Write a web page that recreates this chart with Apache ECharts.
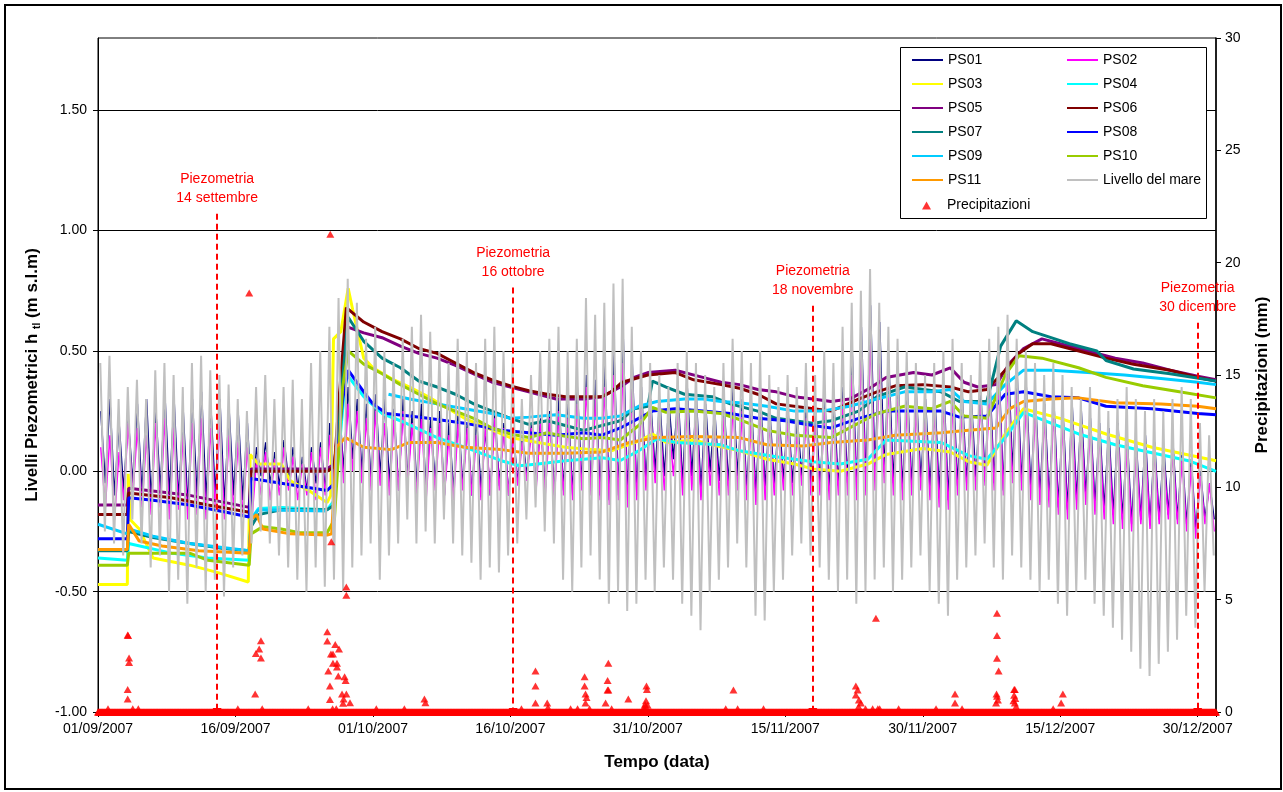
<!DOCTYPE html>
<html>
<head>
<meta charset="utf-8">
<script src="https://cdn.jsdelivr.net/npm/echarts@6/dist/echarts.min.js"></script>
<style>
html,body{margin:0;padding:0;background:#fff;}
#chart{width:1283px;height:792px;}
</style>
</head>
<body>
<div id="chart"></div>
<script>
// Time is expressed in days since 01/09/2007 00:00.
const START_UTC = Date.UTC(2007, 8, 1);
const X_MAX_DAY = 122;
const X_TICK_DAYS = 15;
const LEVEL_TICKS = [-1, -0.5, 0, 0.5, 1, 1.5];

// Sea level, sampled every 12 hours (alternating high / low water), from 06:00 of 01/09.
const SEA_FIRST_DAY = 0.25;
const seaLevel = [
 0.45,-0.25, 0.48,-0.30, 0.30,-0.35, 0.35,-0.20, 0.38,-0.30, 0.30,-0.40, 0.42,-0.35, 0.45,-0.50, 0.40,-0.45, 0.35,-0.55,
 0.45,-0.40, 0.48,-0.50, 0.42,-0.45, 0.40,-0.52, 0.36,-0.40, 0.30,-0.35, 0.25,-0.30, 0.35,-0.25, 0.40,-0.30, 0.30,-0.35,
 0.35,-0.40, 0.38,-0.45, 0.30,-0.50, 0.45,-0.40, 0.50,-0.48, 0.60,-0.45, 0.72,-0.50, 0.80,-0.40, 0.70,-0.35, 0.55,-0.30,
 0.60,-0.45, 0.50,-0.35, 0.45,-0.30, 0.55,-0.20, 0.60,-0.30, 0.65,-0.25, 0.58,-0.30, 0.50,-0.20, 0.45,-0.30, 0.55,-0.35,
 0.50,-0.38, 0.45,-0.45, 0.55,-0.40, 0.60,-0.42, 0.50,-0.35, 0.45,-0.30, 0.30,-0.20, 0.40,-0.15, 0.50,-0.25, 0.55,-0.30,
 0.60,-0.45, 0.50,-0.50, 0.55,-0.40, 0.72,-0.35, 0.65,-0.45, 0.70,-0.55, 0.78,-0.50, 0.80,-0.58, 0.60,-0.55, 0.50,-0.45,
 0.45,-0.50, 0.40,-0.40, 0.35,-0.45, 0.45,-0.55, 0.50,-0.60, 0.45,-0.66, 0.40,-0.50, 0.35,-0.45, 0.45,-0.40, 0.55,-0.30,
 0.50,-0.40, 0.45,-0.60, 0.50,-0.62, 0.40,-0.50, 0.35,-0.45, 0.40,-0.35, 0.35,-0.30, 0.45,-0.35, 0.40,-0.40, 0.50,-0.45,
 0.45,-0.50, 0.60,-0.45, 0.70,-0.55, 0.75,-0.50, 0.84,-0.45, 0.70,-0.40, 0.60,-0.50, 0.55,-0.45, 0.50,-0.40, 0.45,-0.35,
 0.40,-0.50, 0.45,-0.55, 0.50,-0.60, 0.55,-0.45, 0.45,-0.40, 0.40,-0.35, 0.50,-0.30, 0.55,-0.40, 0.60,-0.45, 0.65,-0.35,
 0.55,-0.40, 0.50,-0.45, 0.45,-0.50, 0.40,-0.45, 0.45,-0.55, 0.40,-0.60, 0.35,-0.50, 0.30,-0.45, 0.35,-0.55, 0.30,-0.60,
 0.25,-0.65, 0.30,-0.70, 0.35,-0.75, 0.30,-0.82, 0.25,-0.85, 0.30,-0.80, 0.25,-0.75, 0.30,-0.70, 0.35,-0.60, 0.30,-0.65,
 0.20,-0.50, 0.15,-0.35
];

// Tidally driven wells, sampled every 12 hours (high / low), from 07:00 of 01/09.
const WELL_FIRST_DAY = 0.3;
const ps01 = [
 0.25,-0.05, 0.30,-0.10, 0.20,-0.08, 0.22,-0.05, 0.28,-0.10, 0.30,-0.12, 0.26,-0.08, 0.32,-0.10, 0.30,-0.12, 0.25,-0.15,
 0.30,-0.10, 0.33,-0.12, 0.28,-0.10, 0.30,-0.14, 0.26,-0.10, 0.24,-0.12, 0.20,-0.15, 0.10,-0.02, 0.12,-0.05, 0.08,-0.06,
 0.13,-0.04, 0.10,-0.07, 0.06,-0.08, 0.10,-0.05, 0.12,-0.08, 0.20,-0.05, 0.30, 0.00, 0.35, 0.05, 0.30, 0.00, 0.28,-0.05,
 0.32,-0.02, 0.30,-0.05, 0.26,-0.08, 0.30,-0.03, 0.25,-0.06, 0.28,-0.08, 0.22,-0.05, 0.25,-0.10, 0.20,-0.08, 0.24,-0.06,
 0.20,-0.10, 0.22,-0.08, 0.18,-0.10, 0.25,-0.06, 0.20,-0.10, 0.18,-0.05, 0.15,-0.02, 0.20,-0.06, 0.22,-0.08, 0.25,-0.10,
 0.30,-0.08, 0.28,-0.10, 0.35,-0.06, 0.40,-0.08, 0.38,-0.10, 0.45,-0.12, 0.50,-0.10, 0.58,-0.12, 0.45,-0.10, 0.35,-0.05,
 0.30, 0.00, 0.30,-0.02, 0.28, 0.05, 0.32,-0.05, 0.35,-0.02, 0.30,-0.08, 0.28, 0.00, 0.25,-0.04, 0.30,-0.06, 0.35,-0.02,
 0.30,-0.08, 0.28,-0.10, 0.32,-0.08, 0.26,-0.06, 0.24,-0.04, 0.25,-0.05, 0.22,-0.02, 0.28,-0.05, 0.26,-0.06, 0.30,-0.08,
 0.28,-0.06, 0.35,-0.05, 0.50,-0.08, 0.60,-0.05, 0.69,-0.02, 0.62, 0.00, 0.45,-0.05, 0.40,-0.08, 0.35,-0.06, 0.32,-0.04,
 0.30,-0.08, 0.33,-0.10, 0.35,-0.12, 0.38,-0.06, 0.32,-0.05, 0.30,-0.04, 0.35,-0.03, 0.40,-0.05, 0.45,-0.08, 0.50, 0.00,
 0.40,-0.05, 0.35,-0.08, 0.30,-0.10, 0.28,-0.12, 0.30,-0.15, 0.25,-0.16, 0.28,-0.12, 0.25,-0.10, 0.22,-0.14, 0.20,-0.16,
 0.18,-0.18, 0.20,-0.20, 0.15,-0.22, 0.12,-0.20, 0.15,-0.22, 0.12,-0.20, 0.10,-0.18, 0.12,-0.20, 0.08,-0.22, 0.05,-0.25,
 0.00,-0.20,-0.05,-0.20
];
const ps02 = [
 0.10,-0.15, 0.15,-0.20, 0.08,-0.12, 0.20,-0.10, 0.18,-0.15, 0.15,-0.18, 0.20,-0.15, 0.22,-0.20, 0.18,-0.16, 0.15,-0.20,
 0.20,-0.18, 0.22,-0.20, 0.18,-0.15, 0.20,-0.20, 0.15,-0.16, 0.12,-0.18, 0.10,-0.20, 0.05,-0.10, 0.08,-0.12, 0.05,-0.10,
 0.10,-0.08, 0.06,-0.12, 0.03,-0.10, 0.08,-0.12, 0.10,-0.10, 0.15,-0.08, 0.30,-0.05, 0.28, 0.00, 0.25,-0.05, 0.22,-0.08,
 0.25,-0.06, 0.20,-0.10, 0.22,-0.08, 0.25,-0.05, 0.20,-0.10, 0.22,-0.12, 0.18,-0.08, 0.20,-0.10, 0.15,-0.12, 0.20,-0.08,
 0.18,-0.10, 0.15,-0.12, 0.20,-0.10, 0.22,-0.08, 0.18,-0.10, 0.15,-0.06, 0.12,-0.04, 0.18,-0.08, 0.20,-0.10, 0.22,-0.12,
 0.25,-0.10, 0.22,-0.12, 0.28,-0.08, 0.35,-0.10, 0.30,-0.12, 0.35,-0.14, 0.40,-0.12, 0.45,-0.15, 0.35,-0.12, 0.28,-0.08,
 0.25,-0.05, 0.22,-0.08, 0.20,-0.02, 0.25,-0.10, 0.28,-0.08, 0.22,-0.12, 0.20,-0.06, 0.18,-0.10, 0.22,-0.10, 0.28,-0.08,
 0.25,-0.12, 0.22,-0.14, 0.25,-0.12, 0.20,-0.10, 0.18,-0.08, 0.20,-0.10, 0.15,-0.06, 0.22,-0.10, 0.20,-0.10, 0.25,-0.12,
 0.22,-0.10, 0.30,-0.10, 0.40,-0.12, 0.50,-0.10, 0.55,-0.08, 0.45,-0.05, 0.35,-0.10, 0.30,-0.12, 0.28,-0.10, 0.25,-0.08,
 0.22,-0.12, 0.25,-0.15, 0.28,-0.16, 0.30,-0.10, 0.25,-0.08, 0.22,-0.08, 0.28,-0.06, 0.32,-0.08, 0.38,-0.10, 0.40,-0.05,
 0.32,-0.08, 0.28,-0.12, 0.25,-0.14, 0.22,-0.15, 0.25,-0.18, 0.20,-0.20, 0.22,-0.16, 0.20,-0.14, 0.18,-0.18, 0.15,-0.20,
 0.12,-0.22, 0.15,-0.24, 0.10,-0.25, 0.08,-0.22, 0.10,-0.24, 0.08,-0.22, 0.05,-0.20, 0.08,-0.22, 0.05,-0.25, 0.02,-0.28,
-0.02,-0.22,-0.05,-0.25
];

// Slowly varying wells: [day, level m s.l.m.] readings; '-' marks missing data.
const ps03 = [[0,-0.47],[3.2,-0.47],[3.3,-0.01],[3.5,-0.2],[4.5,-0.24],[6,-0.36],[10,-0.39],[13,-0.42],[16.4,-0.46],[16.6,0.07],[17.5,0.03],[20,0.03],[21,-0.04],[23,-0.08],[25,-0.13],[25.4,-0.1],[25.7,0.55],[26.5,0.58],[27.3,0.76],[27.8,0.67],[29,0.47],[30,0.43],[32,0.385],[34,0.35],[36,0.31],[40,0.22],[45,0.14],[48,0.12],[51,0.1],[54,0.09],[56,0.085],[59,0.125],[60.5,0.155],[62,0.12],[65,0.13],[67,0.11],[70,0.085],[73,0.05],[76,0.03],[78,0.01],[81,0.0],[84,0.03],[86,0.07],[90,0.095],[93,0.08],[95,0.04],[97,0.025],[99,0.155],[101,0.26],[105,0.22],[110,0.155],[115,0.1],[122,0.044]];
const ps04 = [[0,-0.36],[3.2,-0.37],[3.35,-0.3],[8,-0.34],[12,-0.36],[16.5,-0.37],[16.7,-0.2],[17.5,-0.155],[20,-0.15],[25,-0.16],[25.8,-0.12],[26.8,0.3],[27.2,0.4],[29,0.31],[31,0.24],[33,0.21],[37,0.14],[40,0.1],[44,0.044],[46,0.023],[48,0.03],[51,0.044],[55,0.056],[57,0.045],[59,0.085],[61,0.135],[63,0.12],[68,0.11],[70,0.085],[74,0.06],[78,0.04],[81,0.03],[84,0.05],[86,0.13],[92,0.12],[95,0.065],[97,0.05],[99,0.14],[101,0.245],[104,0.2],[107,0.155],[111,0.11],[115,0.077],[119,0.044],[122,0.0]];
const ps05 = [[0,-0.14],[3.2,-0.14],[3.35,-0.07],[10,-0.1],[16.5,-0.15],[16.7,0.01],[25,0.01],[25.8,0.03],[26.5,0.3],[27.2,0.6],[29,0.575],[31,0.555],[33,0.52],[35,0.49],[37,0.47],[39,0.44],[41,0.405],[43,0.37],[45,0.35],[47,0.33],[50,0.3],[53,0.3],[55,0.31],[57,0.35],[58.5,0.39],[60,0.41],[63,0.42],[66,0.39],[68,0.37],[70,0.36],[72,0.34],[74,0.33],[76,0.31],[78,0.3],[80,0.29],[82,0.3],[84,0.34],[86,0.39],[89,0.41],[91,0.4],[93,0.43],[94.5,0.37],[96,0.35],[98,0.36],[99.5,0.45],[101,0.51],[103,0.55],[105,0.53],[108,0.5],[111,0.47],[114,0.45],[117,0.42],[120,0.395],[122,0.38]];
const ps06 = [[0,-0.18],[3.2,-0.18],[3.35,-0.09],[8,-0.11],[12,-0.14],[16.5,-0.17],[16.7,0.0],[20,0.0],[25,0.0],[25.8,0.02],[26.3,0.3],[27.1,0.68],[29,0.62],[31,0.58],[33,0.55],[35,0.51],[37,0.49],[39,0.45],[41,0.41],[43,0.38],[45,0.355],[47,0.335],[49,0.32],[51,0.31],[53,0.31],[55,0.31],[56,0.33],[57.2,0.37],[60,0.4],[63,0.41],[65,0.38],[68,0.36],[70,0.345],[72,0.32],[74,0.28],[77,0.265],[80,0.25],[83,0.3],[85,0.33],[87,0.355],[90,0.36],[93,0.35],[95,0.33],[97,0.34],[99,0.42],[100.5,0.49],[102,0.53],[104,0.53],[106,0.51],[110,0.47],[113,0.445],[117,0.42],[120,0.39],[122,0.375]];
const ps07 = [[0,-0.33],[3.2,-0.33],[3.35,-0.25],[6,-0.275],[10,-0.3],[13.5,-0.32],[16.5,-0.33],[16.7,-0.23],[17.5,-0.18],[20,-0.16],[25,-0.16],[25.8,-0.14],[26.5,0.3],[27.3,0.64],[29,0.54],[31,0.47],[33,0.43],[35,0.375],[37,0.35],[39,0.32],[41,0.28],[43,0.25],[45,0.22],[47,0.195],[49,0.21],[51,0.19],[53,0.17],[55,0.19],[57,0.21],[58.5,0.26],[60,0.27],[60.5,0.375],[62,0.35],[64,0.32],[67,0.31],[69,0.28],[72,0.25],[74,0.22],[76,0.21],[78,0.2],[80,0.21],[83,0.25],[85,0.31],[88,0.35],[92,0.33],[94,0.29],[97,0.29],[98.5,0.52],[100.2,0.625],[102,0.58],[104,0.555],[106,0.53],[109,0.5],[110,0.46],[113,0.425],[117,0.405],[122,0.375]];
const ps08 = [[0,-0.28],[3.2,-0.28],[3.35,-0.11],[6,-0.12],[10,-0.14],[14,-0.17],[16.5,-0.19],[16.7,-0.03],[20,-0.05],[25,-0.08],[25.8,-0.05],[26.7,0.3],[27.3,0.42],[29,0.33],[30,0.28],[31.5,0.24],[34,0.23],[36,0.22],[40,0.2],[44,0.17],[47,0.16],[50,0.15],[53,0.16],[55,0.15],[57,0.18],[59,0.22],[60.5,0.25],[63,0.26],[66,0.25],[69,0.24],[72,0.22],[75,0.21],[78,0.19],[80,0.18],[83,0.22],[86,0.25],[92,0.25],[94,0.225],[97,0.23],[99,0.32],[101,0.33],[104,0.31],[107,0.305],[110,0.27],[115,0.26],[120,0.24],[122,0.235]];
const ps09 = [[0,-0.22],[3.2,-0.26],[3.35,-0.24],[6,-0.27],[10,-0.3],[16.5,-0.33],[16.7,-0.2],[17.5,-0.16],[25,-0.165],[28,'-'],[31.7,0.32],[34,0.3],[37,0.28],[40,0.26],[43,0.24],[45,0.22],[47,0.225],[50,0.235],[53,0.22],[55,0.22],[57,0.23],[59,0.27],[61,0.29],[64,0.3],[66,0.3],[68,0.29],[70,0.285],[73,0.27],[76,0.25],[79,0.25],[82,0.27],[85,0.3],[88,0.33],[91,0.33],[93,0.34],[94.5,0.29],[97,0.28],[99,0.36],[101,0.42],[104,0.42],[108,0.41],[112,0.4],[116,0.385],[120,0.37],[122,0.36]];
const ps10 = [[0,-0.39],[3.2,-0.39],[3.35,-0.34],[10,-0.34],[12,-0.37],[16.5,-0.39],[16.7,-0.26],[18,-0.23],[20,-0.24],[22,-0.255],[25,-0.255],[25.8,-0.2],[26.7,0.35],[27.3,0.5],[29,0.445],[31,0.405],[33,0.36],[35,0.32],[37,0.28],[39,0.25],[41,0.22],[43,0.18],[45,0.155],[47,0.14],[49,0.16],[51,0.145],[53,0.135],[55,0.14],[57,0.13],[59,0.19],[60.5,0.265],[62,0.245],[65,0.25],[68,0.24],[70,0.215],[73,0.17],[76,0.15],[80,0.14],[83,0.2],[85,0.24],[88,0.27],[91,0.26],[93,0.29],[94.5,0.23],[97,0.22],[99,0.4],[100.5,0.48],[103,0.47],[107,0.43],[110,0.39],[114,0.355],[118,0.33],[122,0.305]];
const ps11 = [[0,-0.325],[3.2,-0.325],[3.35,-0.22],[4.5,-0.29],[7,-0.31],[11,-0.33],[16.5,-0.34],[16.7,-0.2],[17.3,-0.18],[18,-0.24],[21,-0.26],[25,-0.265],[25.5,-0.26],[26,0.1],[27,0.14],[29,0.1],[32,0.09],[34,0.12],[37,0.12],[40,0.1],[44,0.09],[47,0.075],[51,0.075],[55,0.08],[58,0.12],[61,0.14],[65,0.145],[70,0.14],[73,0.11],[77,0.105],[80,0.12],[84,0.13],[87,0.15],[92,0.16],[95,0.17],[98,0.18],[99.5,0.26],[101,0.29],[104,0.3],[107,0.305],[111,0.285],[116,0.28],[120,0.27],[122,0.26]];

// Rainfall (mm): hourly record, zero except for the events below.
const RAIN_STEP_HOURS = 1;
const rainDay = [3.24,3.28,3.39,3.39,3.24,3.24,1.09,3.79,4.4,
 15.26,16.5,17.15,17.23,17.59,17.78,17.78,17.92,22.94,
 25.02,25.02,25.13,25.31,25.31,25.35,25.42,25.46,25.64,25.64,25.89,26.08,26.08,26.3,26.22,26.63,26.74,26.8,26.91,27.02,27.1,27.1,27.1,27.5,25.6,26.0,
 30.37,33.43,35.62,35.73,
 46.21,47.74,47.74,47.74,49.02,49.1,51.57,52.33,53.1,53.1,53.2,53.31,53.2,53.64,55.39,55.61,55.69,55.61,55.69,56.05,57.87,59.55,59.7,59.8,59.85,59.9,59.98,59.75,
 68.5,69.34,69.8,72.62,
 82.7,82.89,82.7,83.03,83.25,83.0,83.75,84.53,84.89,85.1,85.3,
 87.37,91.45,93.52,93.52,94.29,
 98.1,98.1,98.1,98.28,98.05,98.1,98.2,98.0,
 99.97,100.05,99.97,100.1,99.9,100.05,100.19,
 104.23,105.29,105.1];
const rainMm = [3.43,3.4,2.4,2.2,1.0,0.58,0.15,0.15,0.15,
 0.15,18.65,0.8,2.6,2.8,3.17,2.4,0.15,0.15,
 3.57,3.16,1.82,1.16,0.56,21.27,2.58,7.58,2.58,2.17,3.0,2.17,2.0,2.8,1.6,0.8,0.39,0.58,1.57,1.4,0.8,5.56,5.2,0.41,0.15,0.15,
 0.15,0.15,0.58,0.41,
 0.15,1.82,1.16,0.4,0.4,0.2,0.15,0.15,1.57,1.16,0.8,0.64,0.4,0.15,0.4,1.4,2.17,0.98,0.98,0.15,0.58,0.2,0.35,0.5,1.16,1.0,0.3,0.25,
 0.15,0.98,0.15,0.15,
 1.16,0.98,0.76,0.53,0.4,0.25,0.15,0.15,4.17,0.15,0.15,
 0.15,0.15,0.8,0.4,0.15,
 4.39,3.4,2.39,1.82,0.8,0.7,0.53,0.4,
 1.0,1.0,0.75,0.6,0.5,0.4,0.25,
 0.15,0.8,0.4];

// Piezometric survey dates (day) and captions.
const surveyDay = [13, 45.3, 78, 120];
const surveyCaption = ['14 settembre', '16 ottobre', '18 novembre', '30 dicembre'];
const surveyLineTop = [1.07, 0.763, 0.688, 0.617];

const pad2 = n => (n < 10 ? '0' : '') + n;
function dayLabel(d) {
  const t = new Date(START_UTC + Math.round(d * 86400000));
  return pad2(t.getUTCDate()) + '/' + pad2(t.getUTCMonth() + 1) + '/' + t.getUTCFullYear();
}
const halfDaily = (arr, first) => arr.map((v, i) => [first + i * 0.5, v]);

const rainSeriesData = [];
for (let h = 0; h <= X_MAX_DAY * 24; h += RAIN_STEP_HOURS) rainSeriesData.push([h / 24, 0]);
rainDay.forEach((d, i) => rainSeriesData.push([d, rainMm[i]]));

const FONT = 'Liberation Sans, Arial, sans-serif';

function lineSeries(name, data, color, width) {
  return {
    name, type: 'line', data, yAxisIndex: 0, xAxisIndex: 0,
    symbol: 'none', showSymbol: false, connectNulls: false,
    lineStyle: { color, width }, itemStyle: { color },
    emphasis: { disabled: true }, animation: false
  };
}

const series = [
  lineSeries('PS01', halfDaily(ps01, WELL_FIRST_DAY), '#000080', 1.5),
  lineSeries('PS02', halfDaily(ps02, WELL_FIRST_DAY), '#FF00FF', 1.5),
  lineSeries('PS03', ps03, '#FFFF00', 3),
  lineSeries('PS04', ps04, '#00FFFF', 3),
  lineSeries('PS05', ps05, '#800080', 3),
  lineSeries('PS06', ps06, '#800000', 3),
  lineSeries('PS07', ps07, '#008080', 3),
  lineSeries('PS08', ps08, '#0000FF', 3),
  lineSeries('PS09', ps09, '#00CCFF', 3),
  lineSeries('PS10', ps10, '#99CC00', 3),
  lineSeries('PS11', ps11, '#FF9900', 3),
  lineSeries('Livello del mare', halfDaily(seaLevel, SEA_FIRST_DAY), '#C0C0C0', 2),
  {
    name: 'Precipitazioni', type: 'scatter', yAxisIndex: 1, data: rainSeriesData,
    symbol: 'triangle', symbolSize: [8, 7], itemStyle: { color: '#FF0000' },
    emphasis: { disabled: true }, animation: false, z: 3
  },
  {
    name: 'Piezometria', type: 'line', yAxisIndex: 0, data: [], animation: false, z: 4,
    markLine: {
      silent: true, animation: false,
      symbol: ['none', 'triangle'], symbolSize: [9, 8],
      lineStyle: { color: '#FF0000', type: [6, 4], width: 2 },
      label: {
        show: true, position: 'start', distance: 6, color: '#FF0000',
        fontFamily: FONT, fontSize: 14, lineHeight: 19, align: 'center', formatter: '{b}'
      },
      data: surveyDay.map((d, i) => [
        { coord: [d, surveyLineTop[i]], name: 'Piezometria\n' + surveyCaption[i] },
        { coord: [d, -1] }
      ])
    }
  }
];

const lineLegend = {
  orient: 'vertical', padding: 0, itemWidth: 31, itemHeight: 14, itemGap: 10,
  selectedMode: false, lineStyle: { width: 2 }, itemStyle: { opacity: 0 },
  textStyle: { fontSize: 14, color: '#000', fontFamily: FONT }
};

const chart = echarts.init(document.getElementById('chart'), null, { renderer: 'canvas' });
chart.setOption({
  animation: false,
  backgroundColor: '#ffffff',
  textStyle: { fontFamily: FONT, color: '#000' },
  grid: { left: 98, right: 67, top: 38, bottom: 80, show: true, borderColor: '#000', borderWidth: 1, outerBoundsMode: 'none', containLabel: false },
  xAxis: {
    type: 'value', min: 0, max: X_MAX_DAY, interval: X_TICK_DAYS,
    axisLine: { show: true, onZero: false, lineStyle: { color: '#000', width: 1 } },
    axisTick: { show: true, length: 5, lineStyle: { color: '#000' } },
    minorTick: { show: true, splitNumber: 12, length: 3, lineStyle: { color: '#000' } },
    splitLine: { show: false },
    axisLabel: { fontSize: 14, color: '#000', margin: 10, fontFamily: FONT,
      formatter: v => (Math.abs(v % X_TICK_DAYS) < 1e-6 ? dayLabel(v) : '') },
    name: 'Tempo (data)', nameLocation: 'middle', nameGap: 42,
    nameTextStyle: { fontSize: 17, fontWeight: 'bold', color: '#000', fontFamily: FONT }
  },
  yAxis: [{
    type: 'value', position: 'left', min: -1, max: 1.8, interval: 0.5,
    axisLine: { show: true, lineStyle: { color: '#000', width: 1 } },
    axisTick: { show: true, length: 5, lineStyle: { color: '#000' }, customValues: LEVEL_TICKS },
    splitLine: { show: true, lineStyle: { color: '#000', width: 1 } },
    axisLabel: { fontSize: 14, color: '#000', margin: 11, fontFamily: FONT,
      customValues: LEVEL_TICKS, formatter: v => v.toFixed(2) },
    name: '{a|Livelli Piezometrici h }{s|tl}{a| (m s.l.m)}',
    nameLocation: 'middle', nameGap: 56, nameRotate: 90,
    nameTextStyle: {
      rich: {
        a: { fontSize: 17, fontWeight: 'bold', color: '#000', fontFamily: FONT, lineHeight: 20 },
        s: { fontSize: 10, fontWeight: 'bold', color: '#000', fontFamily: FONT, lineHeight: 20, verticalAlign: 'bottom' }
      }
    }
  }, {
    type: 'value', position: 'right', min: 0, max: 30, interval: 5,
    axisLine: { show: true, lineStyle: { color: '#000', width: 1.5 } },
    axisTick: { show: true, length: 5, lineStyle: { color: '#000' } },
    splitLine: { show: false },
    axisLabel: { fontSize: 14, color: '#000', margin: 9, fontFamily: FONT },
    name: 'Precipitazioni (mm)', nameLocation: 'middle', nameGap: 38, nameRotate: 90,
    nameTextStyle: { fontSize: 17, fontWeight: 'bold', color: '#000', fontFamily: FONT }
  }],
  legend: [
    Object.assign({}, lineLegend, { left: 911, top: 53, data: ['PS01', 'PS03', 'PS05', 'PS07', 'PS09', 'PS11'] }),
    Object.assign({}, lineLegend, { left: 1066, top: 53, data: ['PS02', 'PS04', 'PS06', 'PS08', 'PS10', 'Livello del mare'] }),
    {
      left: 922, top: 198.5, orient: 'vertical', padding: 0, itemWidth: 9, itemHeight: 8,
      selectedMode: false,
      textStyle: { fontSize: 14, color: '#000', fontFamily: FONT, padding: [0, 0, 0, 11] },
      data: [{ name: 'Precipitazioni', icon: 'triangle' }]
    }
  ],
  graphic: [
    { type: 'rect', z: 3, shape: { x: 900.5, y: 47.5, width: 306, height: 171 },
      style: { fill: '#ffffff', stroke: '#000', lineWidth: 1 }, silent: true },
    { type: 'rect', z: 10, shape: { x: 5, y: 5, width: 1276, height: 784 },
      style: { fill: 'none', stroke: '#000', lineWidth: 2 }, silent: true }
  ],
  series
});
</script>
</body>
</html>
